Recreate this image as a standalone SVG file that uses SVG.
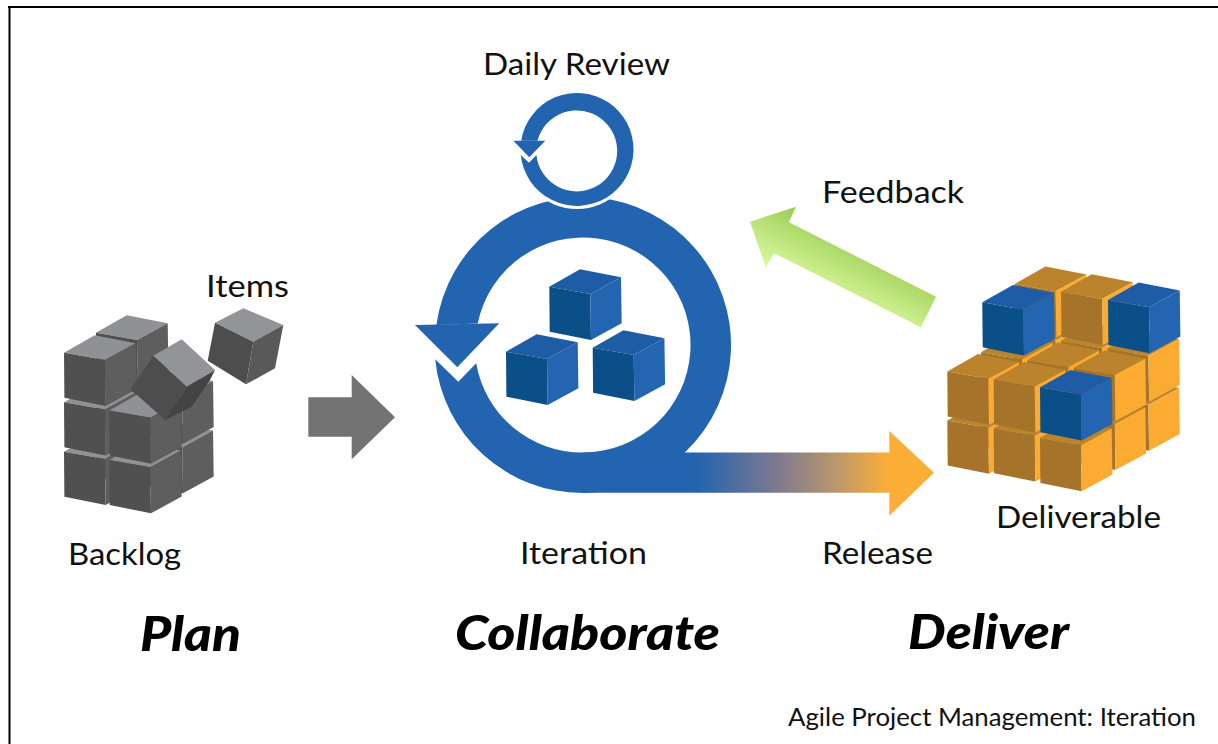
<svg xmlns="http://www.w3.org/2000/svg" xmlns:xlink="http://www.w3.org/1999/xlink" width="1218" height="744" viewBox="0 0 1218 744">
<style>
text{font-family:"Lato","Carlito","Open Sans",sans-serif;fill:#111}
.lbl{font-size:31px}
.ttl{font-size:47px;font-weight:900;font-style:italic;fill:#000}
.cap{font-size:24.5px}
.ft{fill:var(--t)}.fl{fill:var(--l)}.fr{fill:var(--r)}
.blue{--t:#1f5ca6;--l:#0a4f88;--r:#2465b1}
.org{--t:#bb842c;--l:#a5742a;--r:#fbab32}
.gry{--t:#8f9195;--l:#505050;--r:#5e5e5e}
.ring{fill:#2364b0}
</style>
<defs>
<g id="cube">
<polygon class="ft" points="0,0 30.7,-17.4 71.7,-9.4 41,7.3"/>
<polygon class="fl" points="0,0 41,7.3 41.7,53.3 0.4,45"/>
<polygon class="fr" points="41,7.3 71.7,-9.4 72.4,36.6 41.7,53.3"/>
</g>
<linearGradient id="rel" gradientUnits="userSpaceOnUse" x1="697" y1="0" x2="889" y2="0">
<stop offset="0" stop-color="#2364b0"/><stop offset="0.42" stop-color="#80798f"/><stop offset="0.7" stop-color="#b5956f"/><stop offset="1" stop-color="#fcae36"/>
</linearGradient>
<linearGradient id="fb" gradientUnits="userSpaceOnUse" x1="796" y1="206.7" x2="765.9" y2="266.3">
<stop offset="0" stop-color="#9ccc55"/><stop offset="1" stop-color="#dafa9f"/>
</linearGradient>
</defs>
<rect width="1218" height="744" fill="#fff"/>
<g id="frame"><path d="M8 7H1218M9.500 7V744" fill="none" stroke="#000" stroke-width="2"/></g>

<g id="connectors">
<polygon id="plan-arrow" fill="#737373" points="308.300,397.300 351.700,397.300 351.700,375 395,417.300 351.700,459.300 351.700,436.700 308.300,436.700"/>
<polygon id="feedback-arrow" fill="url(#fb)" points="750,221.700 796,206.700 789,222.300 936,296.700 921,327.300 774.300,253.300 765.700,267.300"/>
<polygon id="release-arrow" fill="url(#rel)" points="583,452.400 889.300,452.400 889.300,431 934,472.700 889.300,515.700 889.300,492.700 583,492.700"/>
</g>

<g id="backlog" class="gry">
<use xlink:href="#cube" href="#cube" x="96" y="431.700"/>
<use xlink:href="#cube" href="#cube" x="141.300" y="440"/>
<use xlink:href="#cube" href="#cube" x="64" y="451.700"/>
<use xlink:href="#cube" href="#cube" x="109.300" y="460"/>
<use xlink:href="#cube" href="#cube" x="96" y="382.200"/>
<use xlink:href="#cube" href="#cube" x="141.300" y="390.500"/>
<use xlink:href="#cube" href="#cube" x="64" y="402.200"/>
<use xlink:href="#cube" href="#cube" x="109.300" y="410.500"/>
<use xlink:href="#cube" href="#cube" x="96" y="332.700"/>
<use xlink:href="#cube" href="#cube" x="64" y="352.700"/>
<g id="item-falling">
<polygon fill="#929497" points="153.300,355.700 181.700,339.300 215,370 186.700,386.700"/>
<polygon fill="#4d4d4d" points="153.300,355.700 186.700,386.700 165,420 130.700,389.300"/>
<polygon fill="#444" points="186.700,386.700 215,370 210,380 191.700,406.700 165,420"/>
</g>
<g id="item-loose">
<polygon fill="#929497" points="215,322.700 243.300,308.300 283.300,325 253.300,341.700"/>
<polygon fill="#4d4d4d" points="215,322.700 253.300,341.700 246,384.300 207.700,360.700"/>
<polygon fill="#595959" points="253.300,341.700 283.300,325 275,368.300 246,384.300"/>
</g>
</g>

<g id="iteration">
<path class="ring" d="M436.400 325A148 148 0 1 1 583 493A148 148 0 0 1 435.200 359.300L458.300 381.700L476.200 363.300A107.500 107.500 0 0 0 583 452.500A107.500 107.500 0 1 0 477.700 323.500Z"/>
<polygon class="ring" points="415,325 499.300,323.300 457.300,367.300"/>
<g class="blue">
<use xlink:href="#cube" href="#cube" x="549.300" y="286.700"/>
<use xlink:href="#cube" href="#cube" x="506" y="351.700"/>
<use xlink:href="#cube" href="#cube" x="592.700" y="347.700"/>
</g>
</g>

<g id="daily-review">
<circle cx="577" cy="149.500" r="59.500" fill="#fff"/>
<path class="ring" d="M521.200 140.700A56.500 56.500 0 1 1 520.800 155L529 162.700L536.400 155A40.500 40.500 0 1 0 537.500 140.700Z"/>
<polygon class="ring" points="513.300,140.700 545.300,140.700 529.300,157.300"/>
</g>

<g id="deliverable" class="org">
<use xlink:href="#cube" href="#cube" x="1014.700" y="381.900"/><use xlink:href="#cube" href="#cube" x="1061.050" y="389.700"/><use xlink:href="#cube" href="#cube" x="1107.400" y="397.500"/>
<use xlink:href="#cube" href="#cube" x="981" y="401.200"/><use xlink:href="#cube" href="#cube" x="1027.350" y="409"/><use xlink:href="#cube" href="#cube" x="1073.700" y="416.800"/>
<use xlink:href="#cube" href="#cube" x="947.300" y="420.500"/><use xlink:href="#cube" href="#cube" x="993.650" y="428.300"/><use xlink:href="#cube" href="#cube" x="1040" y="438"/>
<use xlink:href="#cube" href="#cube" x="1014.700" y="332.900"/><use xlink:href="#cube" href="#cube" x="1061.050" y="340.700"/><use xlink:href="#cube" href="#cube" x="1107.400" y="348.500"/>
<use xlink:href="#cube" href="#cube" x="981" y="352.200"/><use xlink:href="#cube" href="#cube" x="1027.350" y="360"/><use xlink:href="#cube" href="#cube" x="1073.700" y="367.800"/>
<use xlink:href="#cube" href="#cube" x="947.300" y="371.500"/><use xlink:href="#cube" href="#cube" x="993.650" y="379.300"/>
<use xlink:href="#cube" href="#cube" class="blue" x="1040" y="387.300"/>
<use xlink:href="#cube" href="#cube" x="1014.700" y="283.900"/><use xlink:href="#cube" href="#cube" x="1061.050" y="291.700"/>
<use xlink:href="#cube" href="#cube" class="blue" x="1108" y="300"/>
<use xlink:href="#cube" href="#cube" class="blue" x="982.300" y="302.300"/>
</g>

<g id="labels">
<text class="lbl" x="483" y="75" textLength="187" lengthAdjust="spacingAndGlyphs">Daily Review</text>
<text class="lbl" x="206" y="297" textLength="83" lengthAdjust="spacingAndGlyphs">Items</text>
<text class="lbl" x="822" y="203" textLength="142" lengthAdjust="spacingAndGlyphs">Feedback</text>
<text class="lbl" x="68" y="565" textLength="113" lengthAdjust="spacingAndGlyphs">Backlog</text>
<text class="lbl" x="520" y="564" textLength="127" lengthAdjust="spacingAndGlyphs">Iteration</text>
<text class="lbl" x="822" y="564" textLength="111" lengthAdjust="spacingAndGlyphs">Release</text>
<text class="lbl" x="996" y="528" textLength="165" lengthAdjust="spacingAndGlyphs">Deliverable</text>
<text class="ttl" x="140" y="651" textLength="101" lengthAdjust="spacingAndGlyphs">Plan</text>
<text class="ttl" x="455" y="650" textLength="265" lengthAdjust="spacingAndGlyphs">Collaborate</text>
<text class="ttl" x="908" y="649" textLength="161" lengthAdjust="spacingAndGlyphs">Deliver</text>
<text class="cap" x="788" y="726" textLength="408" lengthAdjust="spacingAndGlyphs">Agile Project Management: Iteration</text>
</g>
</svg>
